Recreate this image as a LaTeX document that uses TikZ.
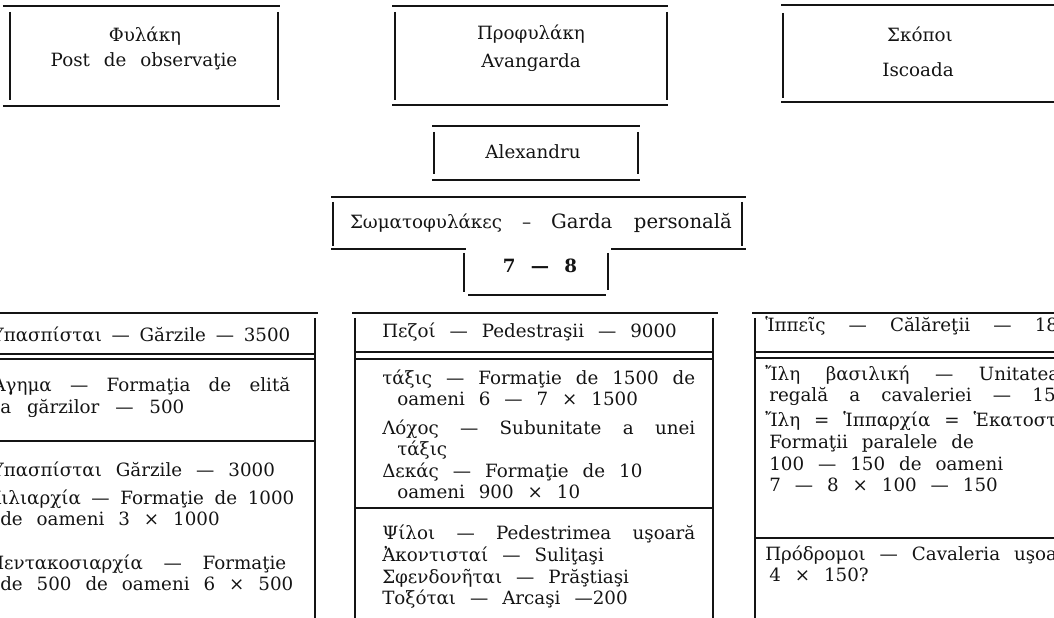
\documentclass[tikz,border=0pt]{standalone}
\usepackage{fontspec}
\setmainfont{DejaVu Serif}[WordSpace=2.4]
\usepackage{tikz}
\definecolor{ink}{HTML}{141414}
\newcommand{\spread}[2]{\makebox[#1][s]{#2}}

\begin{document}
\begin{tikzpicture}[font=\fontsize{13}{15.5}\selectfont,
  rule/.style={draw=ink,line width=1.2pt},
  ttl/.style={anchor=base,inner sep=0pt,text=ink},
  entry/.style={anchor=base west,inner sep=0pt,align=left,text=ink}]
\useasboundingbox (0,0) rectangle (26.35,15.45);
% top row
\draw[rule] (0.075,15.30) -- (7.0,15.30) (0.075,12.80) -- (7.0,12.80);
\foreach \x in {0.25,6.95} {\draw[rule] (\x,15.15) -- (\x,12.95);}
\node[ttl] (fylaki) at (3.625,14.40) {Φυλάκη};
\node[ttl] (post) at (3.6,13.775) {Post de observaţie};
\draw[rule] (9.8,15.30) -- (16.7,15.30) (9.8,12.825) -- (16.7,12.825);
\foreach \x in {9.875,16.675} {\draw[rule] (\x,15.15) -- (\x,12.95);}
\node[ttl] (profylaki) at (13.275,14.45) {Προφυλάκη};
\node[ttl] (avangarda) at (13.275,13.75) {Avangarda};
\draw[rule] (19.525,15.325) -- (26.35,15.325) (19.525,12.90) -- (26.35,12.90);
\draw[rule] (19.575,15.125) -- (19.575,13.0);
\node[ttl] (skopoi) at (23.0,14.40) {Σκόποι};
\node[ttl] (iscoada) at (22.95,13.525) {Iscoada};
% centre
\draw[rule] (10.8,12.30) -- (16.0,12.30) (10.8,10.95) -- (16.0,10.95);
\foreach \x in {10.85,15.95} {\draw[rule] (\x,12.15) -- (\x,11.1);}
\node[ttl] (alex) at (13.325,11.475) {Alexandru};
\draw[rule] (8.275,10.525) -- (18.65,10.525);
\foreach \x in {8.325,18.55} {\draw[rule] (\x,10.4) -- (\x,9.3);}
\draw[rule] (8.275,9.225) -- (11.65,9.225) (15.275,9.225) -- (18.65,9.225);
\node[ttl] (somato) at (13.525,9.725) {\spread{9.55cm}{Σωματοφυλάκες – {\fontsize{14}{15.5}\selectfont Garda personală}}};
\draw[rule] (11.6,9.125) -- (11.6,8.15) (15.2,9.125) -- (15.2,8.2);
\draw[rule] (11.7,8.075) -- (15.15,8.075);
\node[ttl,font=\fontsize{13}{15.5}\selectfont\bfseries] (nr) at (13.5,8.625) {7 — 8};
% left column
\draw[rule] (0,7.625) -- (7.95,7.625);
\draw[rule] (0,6.6) -- (7.9,6.6) (0,6.475) -- (7.9,6.475) (0,4.425) -- (7.9,4.425);
\draw[rule] (7.875,7.5) -- (7.875,0);
\node[entry] (hyp) at (-0.3,6.9) {\spread{7.55cm}{Ὑπασπίσται — Gărzile — 3500}};
\node[entry] (agema) at (-0.2,5.11) {\spread{7.45cm}{Ἄγημα — Formaţia de elită}\\
  \hspace*{0.2cm}\spread{4.6cm}{a gărzilor — 500}};
\node[entry] (hyp2) at (-0.3,3.525) {Ὑπασπίσται Gărzile — 3000};
\node[entry] (chil) at (-0.3,2.3) {\spread{7.65cm}{Χιλιαρχία — Formaţie de 1000}\\
  \hspace*{0.3cm}de oameni 3 × 1000};
\node[entry] (pent) at (-0.3,0.68) {\spread{7.45cm}{Πεντακοσιαρχία — Formaţie}\\
  \hspace*{0.3cm}de 500 de oameni 6 × 500};
% middle column
\draw[rule] (8.8,7.625) -- (17.95,7.625);
\foreach \x in {8.875,17.825} {\draw[rule] (\x,7.5) -- (\x,0);}
\draw[rule] (8.875,6.65) -- (17.825,6.65) (8.875,6.475) -- (17.825,6.475) (8.875,2.75) -- (17.825,2.75);
\node[entry] (pezoi) at (9.55,7.0) {Πεζοί — Pedestraşii — 9000};
\node[entry] (taxis) at (9.55,5.3) {\spread{7.825cm}{τάξις — Formaţie de 1500 de}\\
  \hspace*{0.375cm}oameni 6 — 7 × 1500};
\node[entry] (lochos) at (9.55,4.05) {\spread{7.825cm}{Λόχος — Subunitate a unei}\\
  \hspace*{0.375cm}τάξις};
\node[entry] (dekas) at (9.55,2.98) {Δεκάς — Formaţie de 10\\
  \hspace*{0.375cm}oameni 900 × 10};
\node[entry] (psiloi) at (9.55,0.33) {\spread{7.825cm}{Ψίλοι — Pedestrimea uşoară}\\
  Ἀκοντισταί — Suliţaşi\\Σφενδονῆται — Prăştiaşi\\Τοξόται — Arcaşi —200};
% right column
\draw[rule] (18.8,7.625) -- (26.35,7.625);
\draw[rule] (18.875,7.5) -- (18.875,0);
\draw[rule] (18.875,6.65) -- (26.35,6.65) (18.875,6.5) -- (26.35,6.5) (18.875,2.0) -- (26.35,2.0);
\node[entry] (hippeis) at (19.125,7.15) {\spread{7.9cm}{Ἱππεῖς — Călăreţii — 1800}};
\node[entry] (basil) at (19.125,5.4) {\spread{7.35cm}{Ἴλη βασιλική — Unitatea}\\
  \hspace*{0.1cm}\spread{7.45cm}{regală a cavaleriei — 150}};
\node[entry] (ile) at (19.125,3.15) {Ἴλη = Ἱππαρχία = Ἑκατοστύς\\
  \hspace*{0.1cm}Formaţii paralele de\\\hspace*{0.1cm}100 — 150 de oameni\\
  \hspace*{0.1cm}7 — 8 × 100 — 150};
\node[entry] (prodromoi) at (19.125,0.9) {Πρόδρομοι — Cavaleria uşoară\\
  \hspace*{0.1cm}4 × 150?};
\end{tikzpicture}
\end{document}
